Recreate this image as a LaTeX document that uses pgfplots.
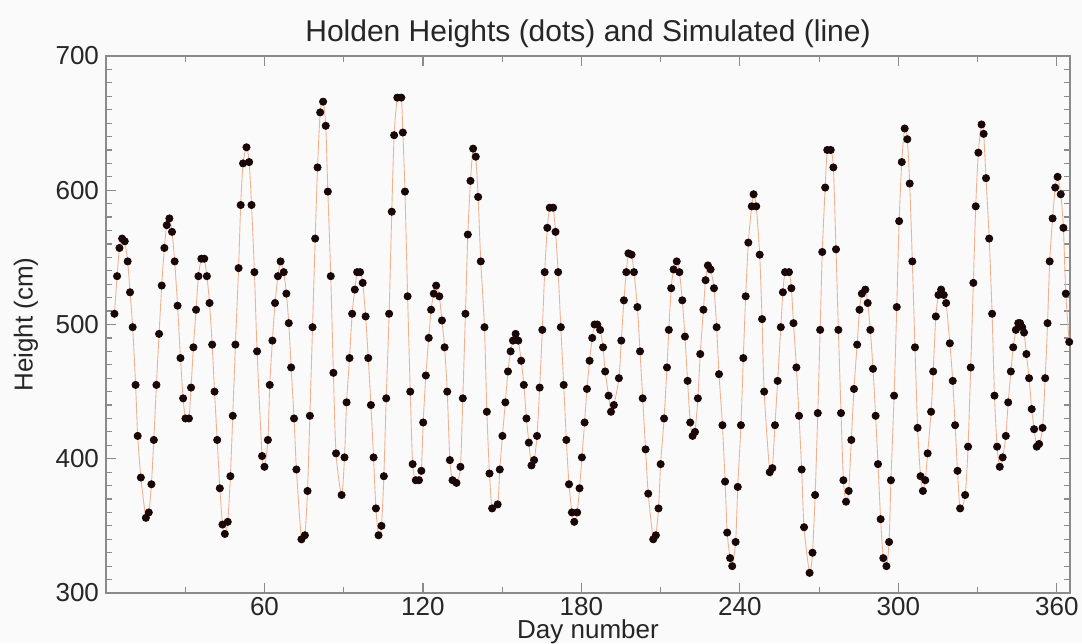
\documentclass[border=0pt]{standalone}
\usepackage{fontspec}
\setmainfont{Liberation Sans}
\usepackage{pgfplots}
\usepackage{pgfplotstable}
\pgfplotsset{compat=1.18}
\definecolor{dotc}{HTML}{1A0808}
\definecolor{linec}{HTML}{F2B292}
\definecolor{axc}{HTML}{8A8A8A}
\definecolor{txt}{HTML}{262626}
\definecolor{bg}{HTML}{FAFAFA}

\pgfplotstableread{
d h
3.2 508
4.2 536
5.1 557
6.1 564
7.1 562
8.2 547
9.1 524
10.1 498
11.2 455
12.0 417
13.2 386
15.1 356
16.2 360
17.2 381
18.1 414
19.1 455
20.1 493
21.1 529
22.1 557
23.0 574
24.0 579
25.0 569
26.0 547
27.1 514
28.2 475
29.2 445
30.1 430
31.4 430
32.2 453
33.1 483
34.1 511
35.0 536
36.1 549
37.2 549
38.2 536
39.2 516
40.2 485
41.1 450
42.1 414
43.1 378
44.1 351
45.0 344
46.1 353
47.1 387
48.0 432
49.0 485
50.2 542
51.0 589
51.9 620
53.2 632
54.2 621
55.1 589
56.2 539
57.2 480
59.1 402
60.0 394
61.3 414
62.0 455
63.0 488
64.0 516
65.1 536
66.1 547
67.3 539
68.3 523
69.2 501
70.1 468
71.2 430
72.1 392
74.0 340
75.3 343
76.3 376
77.2 432
78.2 498
79.2 564
80.1 617
81.1 658
82.2 666
83.2 648
84.0 599
85.1 536
86.1 464
87.1 404
89.2 373
90.3 401
91.1 442
92.2 475
93.2 508
94.2 526
95.1 539
96.2 539
97.2 531
98.3 506
99.3 475
100.3 440
101.3 401
102.2 363
103.2 343
104.3 350
105.2 387
106.1 445
107.2 508
108.2 584
109.1 641
110.3 669
111.8 669
112.4 643
113.2 599
114.2 521
115.2 450
116.1 396
117.3 384
118.5 384
119.4 391
120.1 427
121.1 462
122.2 490
123.1 511
124.1 523
125.0 529
126.2 521
127.2 503
128.2 483
129.2 450
130.2 399
131.2 384
132.7 382
134.2 394
135.1 445
136.1 508
137.0 567
138.0 607
139.0 631
140.0 625
140.9 595
141.9 547
143.3 498
144.2 435
145.2 389
146.2 363
148.3 366
149.1 392
150.1 417
151.2 442
152.2 465
153.2 480
154.1 488
155.1 493
156.1 488
157.2 473
158.2 455
159.2 430
160.1 412
161.1 395
162.1 399
163.2 417
164.2 453
165.2 496
166.1 539
167.1 572
168.0 587
169.3 587
170.2 569
171.2 539
172.2 498
173.3 455
174.3 414
175.3 381
176.4 360
177.3 353
178.4 360
179.3 378
180.2 401
181.2 427
182.1 452
183.1 473
184.1 490
185.0 500
186.0 500
187.1 496
188.2 483
189.0 465
190.3 447
191.2 435
192.3 440
194.2 460
195.1 488
196.1 518
197.0 539
197.8 553
199.0 552
199.9 539
201.2 513
202.2 480
203.2 445
204.3 407
205.3 374
207.2 340
208.2 343
209.2 363
210.0 396
211.3 430
212.4 468
213.1 496
214.0 527
214.9 541
216.1 547
217.1 539
218.2 518
219.2 491
220.2 458
221.2 427
222.1 417
223.0 420
224.1 445
225.0 478
226.2 511
227.0 533
227.9 544
228.9 541
230.2 527
231.2 498
232.1 463
233.4 425
234.4 383
235.2 345
236.3 326
237.1 320
238.4 338
239.2 379
240.4 425
241.3 475
242.2 521
243.2 561
244.5 588
245.2 597
246.2 588
247.5 552
248.4 504
249.2 450
251.3 390
252.3 393
253.3 425
254.3 458
255.5 498
256.3 524
257.1 539
258.6 539
259.5 527
260.3 501
261.4 468
262.4 432
263.4 392
264.3 349
266.4 315
267.5 330
268.5 373
269.5 434
270.4 496
271.2 554
272.3 602
273.1 630
274.4 630
275.4 617
276.4 556
277.3 496
278.3 434
279.2 384
280.2 368
281.2 376
282.2 414
283.2 452
284.4 485
285.3 511
286.2 523
287.5 526
288.4 516
289.4 496
290.4 467
291.4 432
292.3 396
293.3 355
294.3 326
295.5 320
296.5 338
297.2 384
298.4 447
299.4 513
300.3 577
301.3 621
302.4 646
303.4 638
304.3 605
305.3 547
306.3 483
307.3 423
308.4 387
309.3 376
310.2 384
311.1 404
312.4 435
313.2 465
314.2 506
315.2 522
316.2 526
317.2 522
318.1 516
319.5 486
320.6 458
321.5 425
322.4 391
323.4 363
325.3 373
326.4 409
327.4 468
328.4 531
329.3 588
330.3 628
331.5 649
332.3 642
333.2 609
334.4 564
335.5 508
336.4 447
337.4 409
338.4 394
339.5 401
340.7 417
341.6 442
342.6 465
343.5 483
344.5 496
345.4 501
346.1 501
346.9 498
347.6 494
348.5 478
349.5 460
350.5 437
351.4 422
352.4 409
353.3 411
354.6 423
355.6 460
356.5 501
357.3 547
358.4 579
359.4 602
360.3 610
361.5 597
362.5 572
363.4 523
364.7 487
}\holden

\begin{document}
\begin{tikzpicture}
\path[use as bounding box, fill=bg] (-53pt,-25pt) rectangle (488pt,296.5pt);
\begin{axis}[
  scale only axis, width=482pt, height=268.5pt,
  xmin=0, xmax=365, ymin=300, ymax=700,
  xtick={60,120,180,240,300,360},
  minor xtick={30,90,150,210,270,330},
  ytick={300,400,500,600,700},
  minor ytick={310,320,...,690},
  tick align=inside,
  major tick length=5pt, minor tick length=3pt,
  axis line style={axc, line width=0.6pt},
  every tick/.style={axc, line width=0.6pt},
  tick label style={font=\fontsize{13}{15}\selectfont, text=txt},
  /pgf/number format/assume math mode=true,
  xticklabel style={inner sep=1pt, yshift=-1pt},
  title={Holden Heights (dots) and Simulated (line)},
  title style={at={(axis description cs:0.5,1)}, anchor=center, yshift=5pt, font=\fontsize{15}{17}\selectfont, text=txt},
  xlabel={Day number},
  xlabel style={at={(axis description cs:0.5,0)}, anchor=center, yshift=-19.5pt, font=\fontsize{13}{15}\selectfont, text=txt},
  ylabel={Height (cm)},
  ylabel style={at={(axis description cs:-0.083,0.5)}, anchor=center, font=\fontsize{13}{15}\selectfont, text=txt},
  clip=false,
]
\addplot[linec, line width=0.45pt, smooth, tension=0.45] table[x=d, y=h] {\holden};
\addplot[only marks, mark=*, mark size=1.8pt, mark options={fill=dotc, draw=dotc}] table[x=d, y=h] {\holden};
\end{axis}
\end{tikzpicture}
\end{document}
